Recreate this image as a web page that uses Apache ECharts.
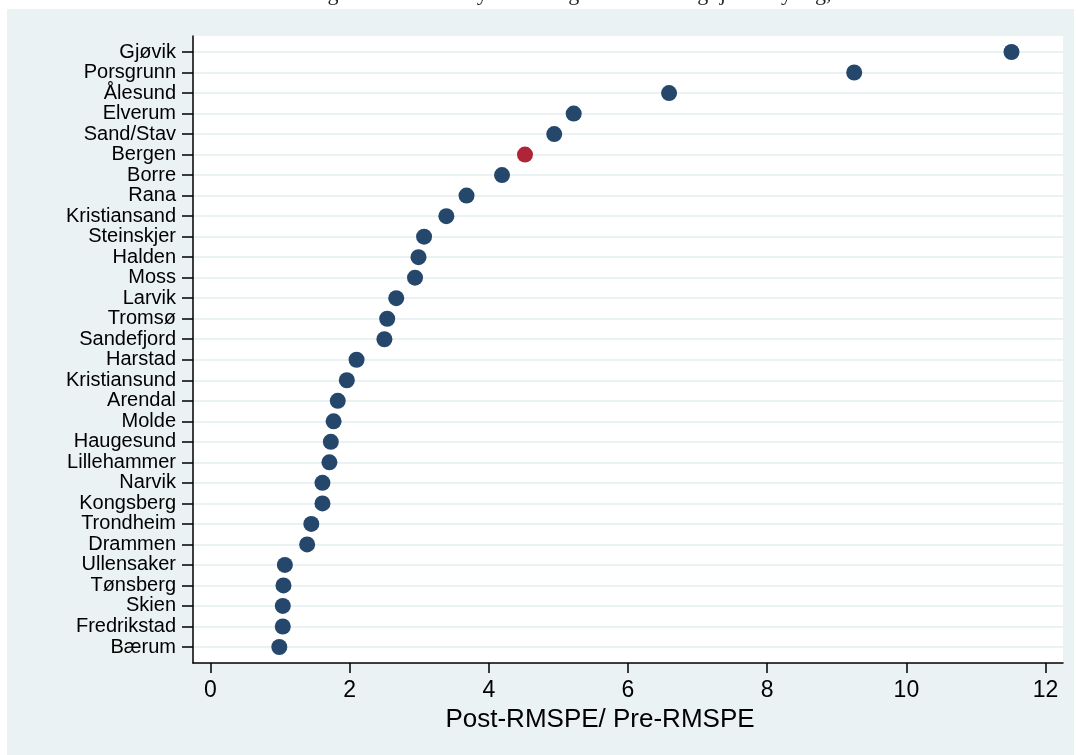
<!DOCTYPE html>
<html>
<head>
<meta charset="utf-8">
<script src="https://cdn.jsdelivr.net/npm/echarts@6/dist/echarts.min.js"></script>
<style>
html,body{margin:0;padding:0;background:#fff;}
#chart{width:1076px;height:755px;}
</style>
</head>
<body>
<div id="chart"></div>
<script>
// Units ordered top to bottom
var units = ['Gjøvik','Porsgrunn','Ålesund','Elverum','Sand/Stav','Bergen','Borre','Rana','Kristiansand','Steinskjer','Halden','Moss','Larvik','Tromsø','Sandefjord','Harstad','Kristiansund','Arendal','Molde','Haugesund','Lillehammer','Narvik','Kongsberg','Trondheim','Drammen','Ullensaker','Tønsberg','Skien','Fredrikstad','Bærum'];
var ratio = [11.51,9.25,6.59,5.22,4.94,4.52,4.19,3.68,3.39,3.07,2.99,2.94,2.67,2.54,2.50,2.10,1.96,1.83,1.77,1.73,1.71,1.61,1.61,1.45,1.39,1.07,1.05,1.04,1.04,0.99];
var treated = 'Bergen';
var xTicks = [0,2,4,6,8,10,12];
var xTitle = 'Post-RMSPE/ Pre-RMSPE';
var topText = 'Ratio mellom Post- og Pre-RMSPE: Sysselsetting ved handel og tjenesteyting, 2008–2019';

var n = units.length;
var yPos = units.map(function(u,i){ return n - i; });
var points = units.map(function(u,i){
  return {name: u, value: [ratio[i], n - i],
    itemStyle: {color: u === treated ? '#ae2538' : '#24476b', opacity: 1}};
});

var chart = echarts.init(document.getElementById('chart'), null, {renderer:'canvas'});
chart.setOption({
  animation: false,
  backgroundColor: '#ffffff',
  graphic: [
    {type:'rect', shape:{x:7, y:9, width:1067, height:746}, style:{fill:'#eaf2f3'}, z:-10, silent:true},
    {type:'text', x:538, y:-17, style:{text: topText, font:'22px "Liberation Serif", serif', fill:'#222', align:'center'}, z:-5, silent:true}
  ],
  grid: {left:193, right:13, top:36, bottom:92, show:true, backgroundColor:'#ffffff', borderWidth:0},
  xAxis: {
    type:'value', min:-0.25, max:12.25,
    axisLine:{show:true, onZero:false, lineStyle:{color:'#000', width:1.5}},
    axisTick:{show:true, length:10, customValues: xTicks, lineStyle:{color:'#000', width:1.5}},
    axisLabel:{customValues: xTicks, color:'#000', fontSize:23, fontFamily:'"Liberation Sans", Arial, sans-serif', margin:16},
    splitLine:{show:false},
    name: xTitle, nameLocation:'middle', nameGap:44,
    nameTextStyle:{color:'#000', fontSize:26, fontFamily:'"Liberation Sans", Arial, sans-serif', padding:[0,56,0,0]}
  },
  yAxis: {
    type:'value', min:0.22, max:30.78,
    axisLine:{show:true, onZero:false, lineStyle:{color:'#000', width:1.5}},
    axisTick:{show:true, length:11, customValues: yPos, lineStyle:{color:'#000', width:1.5}},
    axisLabel:{customValues: yPos, color:'#000', fontSize:20, fontFamily:'"Liberation Sans", Arial, sans-serif', margin:17,
      formatter:function(v){ var i = n - Math.round(v); return units[i] || ''; }},
    splitLine:{show:true, lineStyle:{color:'#eaf2f3', width:2}}
  },
  series: [{
    type:'scatter', symbol:'circle', symbolSize:16,
    itemStyle:{opacity:1},
    data: points
  }]
});
</script>
</body>
</html>
